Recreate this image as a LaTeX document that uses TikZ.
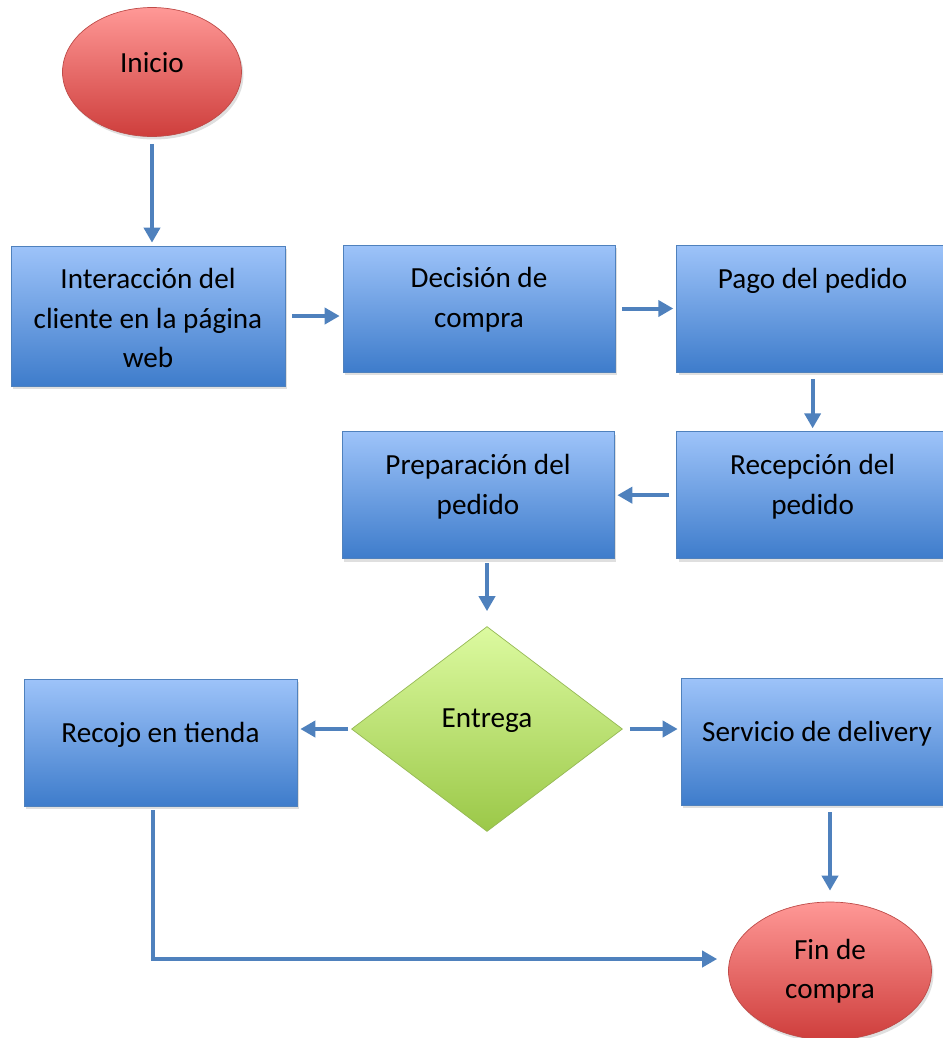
\documentclass[tikz,border=0pt]{standalone}
\usepackage{fontspec}
\setmainfont{Carlito}
\usetikzlibrary{arrows.meta,shapes,shadows,positioning}

\definecolor{boxtop}{RGB}{157,195,249}
\definecolor{boxbot}{RGB}{62,124,203}
\definecolor{boxline}{RGB}{79,129,189}
\definecolor{redtop}{RGB}{255,152,150}
\definecolor{redbot}{RGB}{206,62,60}
\definecolor{redline}{RGB}{190,75,72}
\definecolor{greentop}{RGB}{220,250,160}
\definecolor{greenbot}{RGB}{155,200,72}
\definecolor{greenline}{RGB}{150,185,85}
\definecolor{flowblue}{RGB}{79,129,189}

\begin{document}
\begin{tikzpicture}[x=0.02cm,y=-0.02cm,font=\fontsize{16.6pt}{22.5pt}\selectfont]
      \tikzstyle{rectblock}=[rectangle, draw=boxline, top color=boxtop, bottom color=boxbot, minimum width=5.44cm, inner sep=0pt, align=center, text height=0.86cm, text depth=1.68cm, drop shadow={shadow xshift=0.04cm, shadow yshift=-0.06cm, opacity=0.25}]
      \tikzstyle{twolines}=[text height=1.65cm, text depth=0.89cm]
      \tikzstyle{midblock}=[rectblock, text height=1.26cm, text depth=1.28cm]
      \tikzstyle{terminal}=[ellipse, draw=redline, top color=redtop, bottom color=redbot, inner sep=0pt, align=center, drop shadow={shadow xshift=0.04cm, shadow yshift=-0.06cm, opacity=0.25}]
      \tikzstyle{choicebox}=[diamond, draw=greenline, top color=greentop, bottom color=greenbot, inner sep=0pt, minimum width=5.42cm, minimum height=4.1cm, text height=0.45cm, text depth=0.51cm]
      \tikzstyle{flow}=[-{Triangle[width=0.32cm,length=0.3cm]}, line width=0.08cm, draw=flowblue, shorten <=0.14cm, shorten >=0.06cm]
      \useasboundingbox (0,0) rectangle (943,1038);
      \clip (0,0) rectangle (943,1038);
      \node[terminal, minimum width=3.58cm, minimum height=2.58cm, text height=0.45cm, text depth=0.43cm] (start) at (152,72) {Inicio};
      \node[rectblock, minimum width=5.48cm, text height=2.44cm, text depth=0.36cm] (interact) at (148,316) {Interacción del\\cliente en la página\\web};
      \node[rectblock, twolines] (decision) at (479,308.5) {Decisión de\\compra};
      \node[rectblock, right = 1.22cm of decision] (pay) {Pago del pedido};
      \node[rectblock, twolines, below = 1.18cm of pay] (receive) {Recepción del\\pedido};
      \node[rectblock, twolines, left = 1.24cm of receive] (prepare) {Preparación del\\pedido};
      \node[choicebox] (choice) at (487,729) {Entrega};
      \node[midblock, minimum width=5.46cm] (pickup) at (160.5,742.5) {Recojo en tienda};
      \node[midblock] (service) at (817,741.5) {Servicio de delivery};
      \node[terminal, minimum width=4.06cm, minimum height=2.76cm] (end) at (830,971) {Fin de\\compra};
      \draw[flow] (start) -- (start |- interact.north);
      \draw[flow] (interact.east) -- (interact.east -| decision.west);
      \draw[flow] (decision) -- (pay);
      \draw[flow] (pay.south) -- (pay.south |- receive.north);
      \draw[flow] (receive.west) -- (receive.west -| prepare.east);
      \draw[flow, shorten <=0.08cm, shorten >=0.3cm] (choice.north |- prepare.south) -- (choice.north);
      \draw[flow, shorten <=0.06cm] (choice.west) -- (choice.west -| pickup.east);
      \draw[flow] (choice.east) -- (choice.east -| service.west);
      \draw[flow, shorten >=0.22cm] (end.north |- service.south) -- (end.north);
      \draw[flow, shorten <=0.08cm, shorten >=0.22cm] ([xshift=-0.16cm]pickup.south) |- ([yshift=0.24cm]end.west);
    \end{tikzpicture}
\end{document}
